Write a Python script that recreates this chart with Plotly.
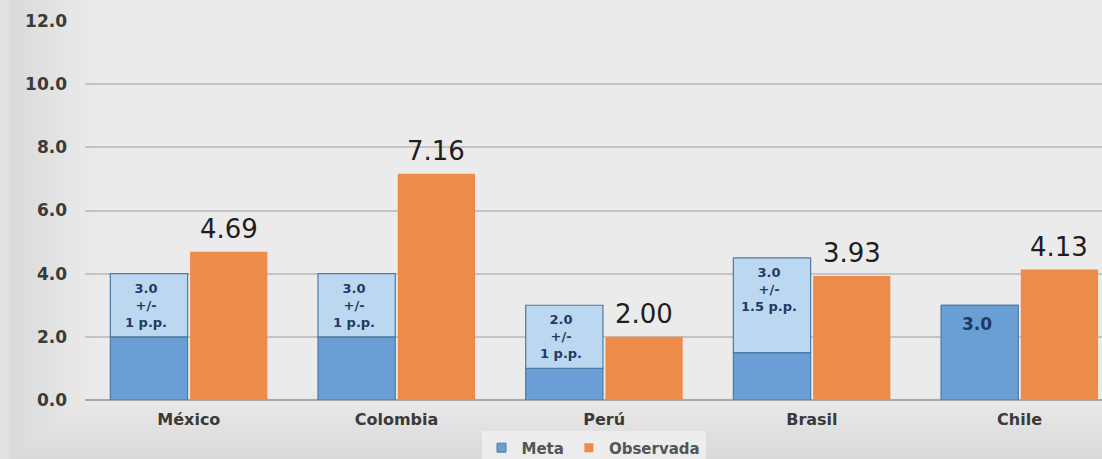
import plotly.graph_objects as go

# Inflation targets and observed inflation by country
paises = ["México", "Colombia", "Perú", "Brasil", "Chile"]
meta_centro = [3.0, 3.0, 2.0, 3.0, 3.0]
meta_tolerancia = [1.0, 1.0, 1.0, 1.5, 0.0]
observada = [4.69, 7.16, 2.00, 3.93, 4.13]
meta_textos = ["3.0<br>+/-<br>1 p.p.", "3.0<br>+/-<br>1 p.p.", "2.0<br>+/-<br>1 p.p.",
               "3.0<br>+/-<br>1.5 p.p.", "3.0"]
y_ticks = [0, 2, 4, 6, 8, 10, 12]

x = list(range(len(paises)))
piso = [c - t for c, t in zip(meta_centro, meta_tolerancia)]
banda = [2 * t for t in meta_tolerancia]

AZUL = "#6a9fd6"
AZUL_CLARO = "#bcd8f1"
BORDE = "#4f7aa3"
NARANJA = "#ec8b4a"
TEXTO_META = "#1f3a66"
FUENTE = "DejaVu Sans"

W = 0.372
OFF_META = -0.378
OFF_OBS = 0.006

fig = go.Figure()

# Lower (solid) part of the target bar
fig.add_trace(go.Bar(
    x=x, y=piso, name="Meta", offset=OFF_META, width=W,
    marker=dict(color=AZUL, line=dict(color=BORDE, width=1.2)),
    showlegend=False,
))
# Tolerance band on top of the target bar
fig.add_trace(go.Bar(
    x=x, y=banda, base=piso, name="Banda", offset=OFF_META, width=W,
    marker=dict(color=AZUL_CLARO, line=dict(color=BORDE, width=1.2)),
    showlegend=False,
))
# Observed inflation
fig.add_trace(go.Bar(
    x=x, y=observada, name="Observada", offset=OFF_OBS, width=W,
    marker=dict(color=NARANJA, line=dict(width=0)),
    showlegend=False,
))

# Legend entries with small square swatches
fig.add_trace(go.Scatter(
    x=[None], y=[None], mode="markers", name="Meta",
    marker=dict(symbol="square", size=9, color=AZUL, line=dict(color=BORDE, width=1)),
))
fig.add_trace(go.Scatter(
    x=[None], y=[None], mode="markers", name="Observada",
    marker=dict(symbol="square", size=9, color=NARANJA),
))

# Value labels above the observed bars
for xi, v in zip(x, observada):
    fig.add_annotation(
        x=xi + OFF_OBS + W / 2, y=v, text=f"{v:.2f}", showarrow=False,
        yanchor="bottom", yshift=6,
        font=dict(family=FUENTE, size=26, color="#1e1e1e"),
    )

# Target descriptions inside the target bars
for xi, c, t, txt in zip(x, meta_centro, meta_tolerancia, meta_textos):
    top = c + t
    size = 13 if t > 0 else 17
    fig.add_annotation(
        x=xi + OFF_META + W / 2 - 0.015, y=top, text=txt, showarrow=False,
        yanchor="top", yshift=-5 if t > 0 else -7,
        font=dict(family=FUENTE, size=size, color=TEXTO_META, weight="bold"),
    )

# Soft grey background, lighter towards the upper right
PX = 1017.0
PY = 379.0
shapes = [dict(type="rect", xref="paper", yref="paper", x0=-0.1, x1=1.02,
               y0=-0.2, y1=1.1, fillcolor="#d8d8d8", line_width=0, layer="below")]
for k in range(18):
    shapes.append(dict(
        type="rect", xref="paper", yref="paper",
        x0=(-76 + k * 5) / PX, x1=1.02,
        y0=(-59 + k * 4) / PY, y1=1.1,
        fillcolor="rgba(255,255,255,0.05)", line_width=0, layer="below",
    ))
# Lighter strip along the left edge
shapes.append(dict(type="rect", xref="paper", yref="paper", x0=-85 / PX, x1=-76 / PX,
                   y0=-0.2, y1=1.1, fillcolor="#e1e1e1", line_width=0, layer="below"))

fig.update_layout(
    width=1102, height=459,
    margin=dict(l=85, r=0, t=21, b=59, autoexpand=False),
    paper_bgcolor="#d8d8d8",
    plot_bgcolor="rgba(0,0,0,0)",
    barmode="overlay",
    shapes=shapes,
    font=dict(family=FUENTE, color="#3a3a3a"),
    xaxis=dict(
        range=[-0.5, 4.397], tickvals=x, ticktext=paises,
        showgrid=False, zeroline=False, showline=False, ticks="",
        tickfont=dict(size=16, color="#3a3a3a", weight="bold"),
        ticklabelstandoff=8,
    ),
    yaxis=dict(
        range=[0, 12], tickvals=y_ticks, tickformat=".1f",
        showgrid=True, gridcolor="#c4c4c4", gridwidth=1.5,
        zeroline=True, zerolinecolor="#a8a8a8", zerolinewidth=1.5,
        showline=False, ticks="",
        tickfont=dict(size=17, color="#3a3a3a", weight="bold"),
        ticklabelstandoff=17,
    ),
    legend=dict(
        orientation="h", x=0.5, xanchor="center", y=-0.17, yanchor="bottom",
        bgcolor="rgba(242,242,242,0.75)",
        font=dict(size=15, color="#555555", weight="bold"),
        itemwidth=30, traceorder="normal",
    ),
)

fig.write_html("out.html")
